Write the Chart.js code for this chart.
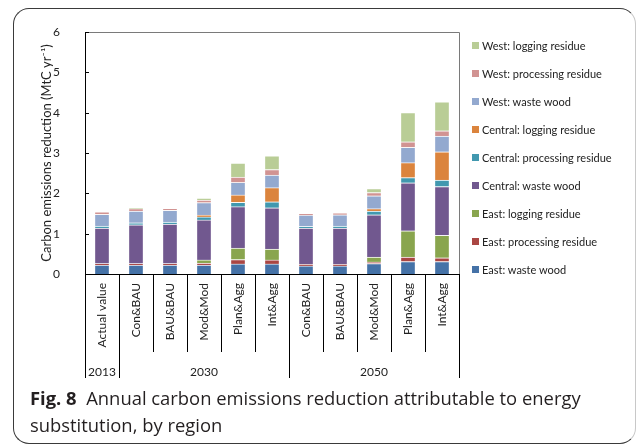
<!DOCTYPE html>
<html>
<head>
<meta charset="utf-8">
<script src="https://cdn.jsdelivr.net/npm/chart.js@4"></script>
<style>
  body { margin: 0; background: #fff; }
  #wrap { position: relative; width: 637px; height: 448px; overflow: hidden; }
  #frame { position: absolute; left: 13px; top: 8px; width: 623px; height: 436px; box-sizing: border-box;
           border: 1px solid #3a3a3a; border-right-color: #c8c8c8; border-radius: 16px; }
  canvas { position: absolute; left: 0; top: 0; }
  .item { position: absolute; left: 472px; height: 14px; display: flex; align-items: center;
          white-space: nowrap; font-family: Lato, sans-serif; font-size: 11px; color: #222; }
  .sw { width: 7px; height: 7px; margin-right: 3px; flex: none; }
  #caption { position: absolute; left: 30px; top: 384px; font-family: 'Open Sans', sans-serif;
             font-size: 18.4px; line-height: 27px; color: #231f20; white-space: nowrap; }
  #caption b { font-weight: 700; }
</style>
</head>
<body>
<div id="wrap">
  <div id="frame"></div>
  <canvas id="c" width="637" height="390"></canvas>
  <div id="legend"></div>
  <div id="caption"><b>Fig. 8</b>&nbsp; Annual carbon emissions reduction attributable to energy<br>substitution, by region</div>
</div>
<script>
// Scenario columns and the year each block of columns belongs to
const categories = ['Actual value', 'Con&BAU', 'BAU&BAU', 'Mod&Mod', 'Plan&Agg', 'Int&Agg',
                    'Con&BAU', 'BAU&BAU', 'Mod&Mod', 'Plan&Agg', 'Int&Agg'];
const yearLabels = ['2013', '2030', '2050'];
const yearSpans = [1, 5, 5];
const yTicks = [0, 1, 2, 3, 4, 5, 6];

// Emissions reduction by region and feedstock (MtC yr-1), stacked bottom to top
const eastWasteWood         = [0.22, 0.22, 0.22, 0.22, 0.25, 0.25, 0.20, 0.20, 0.26, 0.31, 0.31];
const eastProcessingResidue = [0.04, 0.04, 0.04, 0.05, 0.11, 0.10, 0.04, 0.04, 0.04, 0.11, 0.09];
const eastLoggingResidue    = [0.00, 0.00, 0.00, 0.08, 0.28, 0.27, 0.00, 0.00, 0.12, 0.65, 0.56];
const centralWasteWood      = [0.88, 0.96, 0.98, 0.99, 1.03, 1.02, 0.90, 0.90, 1.05, 1.19, 1.21];
const centralProcessing     = [0.05, 0.05, 0.05, 0.08, 0.11, 0.15, 0.04, 0.05, 0.09, 0.13, 0.16];
const centralLogging        = [0.00, 0.00, 0.00, 0.04, 0.18, 0.35, 0.00, 0.00, 0.06, 0.37, 0.70];
const westWasteWood         = [0.29, 0.29, 0.29, 0.31, 0.31, 0.31, 0.28, 0.28, 0.32, 0.38, 0.39];
const westProcessing        = [0.06, 0.06, 0.05, 0.06, 0.13, 0.14, 0.04, 0.04, 0.08, 0.14, 0.13];
const westLogging           = [0.00, 0.01, 0.00, 0.05, 0.35, 0.34, 0.00, 0.00, 0.10, 0.72, 0.72];

const seriesNames = ['East: waste wood', 'East: processing residue', 'East: logging residue',
                     'Central: waste wood', 'Central: processing residue', 'Central: logging residue',
                     'West: waste wood', 'West: processing residue', 'West: logging residue'];
const seriesValues = [eastWasteWood, eastProcessingResidue, eastLoggingResidue,
                      centralWasteWood, centralProcessing, centralLogging,
                      westWasteWood, westProcessing, westLogging];
const seriesColors = ['#4572A7', '#AA4643', '#89A54E', '#71588F', '#4198AF', '#DB843D',
                      '#93A9CF', '#D19392', '#B9CD96'];

const FONT = 'Lato, sans-serif';

// Plot border, inward y ticks and the year row under the scenario labels
const axisExtras = {
  id: 'axisExtras',
  afterDraw(chart) {
    const { ctx, chartArea: a, scales: { x, y } } = chart;
    const px = v => Math.round(v) + 0.5;
    ctx.save();
    ctx.lineWidth = 1;

    ctx.strokeStyle = '#7a7a7a';
    ctx.beginPath();
    ctx.moveTo(a.left, px(a.top));
    ctx.lineTo(px(a.right), px(a.top));
    ctx.lineTo(px(a.right), a.bottom);
    ctx.stroke();

    ctx.strokeStyle = '#000';
    ctx.beginPath();
    y.ticks.forEach(t => {
      const ty = px(y.getPixelForValue(t.value));
      ctx.moveTo(a.left, ty);
      ctx.lineTo(a.left + 4, ty);
    });
    ctx.stroke();

    const step = x.getPixelForValue(1) - x.getPixelForValue(0);
    const edge = i => x.getPixelForValue(i) - step / 2;
    const rowTop = x.top + x.options.grid.tickLength;
    const rowBottom = x.bottom;
    ctx.fillStyle = '#222';
    ctx.font = '12px ' + FONT;
    ctx.textAlign = 'center';
    ctx.textBaseline = 'alphabetic';
    let start = 0;
    ctx.beginPath();
    ctx.moveTo(px(edge(0)), rowTop);
    ctx.lineTo(px(edge(0)), rowBottom);
    yearLabels.forEach((lab, k) => {
      const end = start + yearSpans[k];
      const xs = edge(start), xe = edge(end);
      ctx.moveTo(px(xe), rowTop);
      ctx.lineTo(px(xe), rowBottom);
      ctx.fillText(lab, (xs + xe) / 2, rowTop + 24);
      start = end;
    });
    ctx.stroke();
    ctx.restore();
  }
};

const chart = new Chart(document.getElementById('c'), {
  type: 'bar',
  data: {
    labels: categories,
    datasets: seriesNames.map((name, i) => ({
      label: name,
      data: seriesValues[i],
      backgroundColor: seriesColors[i],
      borderColor: 'rgba(255,255,255,0.5)',
      borderWidth: 1,
      barThickness: 15
    }))
  },
  options: {
    responsive: false,
    animation: false,
    devicePixelRatio: 1,
    layout: { padding: { top: 32, right: 178, bottom: 12, left: 0 } },
    plugins: { legend: { display: false }, tooltip: { enabled: false } },
    scales: {
      x: {
        stacked: true,
        grid: { drawOnChartArea: false, offset: true, tickLength: 78, color: '#000', lineWidth: 1 },
        border: { color: '#000' },
        ticks: { minRotation: 90, maxRotation: 90, autoSkip: false, padding: -69,
                 color: '#222', font: { family: FONT, size: 12 } },
        afterFit(s) { s.height = 104; }
      },
      y: {
        stacked: true,
        min: 0, max: 6,
        afterBuildTicks(s) { s.ticks = yTicks.map(v => ({ value: v })); },
        grid: { display: false },
        border: { color: '#000' },
        ticks: { padding: 17, color: '#222', font: { family: FONT, size: 12 } },
        title: { display: true, text: 'Carbon emissions reduction (MtC yr\u207B\u00B9)',
                 color: '#222', font: { family: FONT, size: 13 }, padding: { top: 39, bottom: 0 } },
        afterFit(s) { s.width = 85; }
      }
    }
  },
  plugins: [axisExtras]
});

// Legend column, listed top-down in reverse stacking order
const legend = document.getElementById('legend');
chart.data.datasets.slice().reverse().forEach((ds, i) => {
  const item = document.createElement('div');
  item.className = 'item';
  item.style.top = (45 + 28.1 * i - 7) + 'px';
  const sw = document.createElement('span');
  sw.className = 'sw';
  sw.style.background = ds.backgroundColor;
  item.appendChild(sw);
  item.appendChild(document.createTextNode(ds.label));
  legend.appendChild(item);
});
</script>
</body>
</html>
